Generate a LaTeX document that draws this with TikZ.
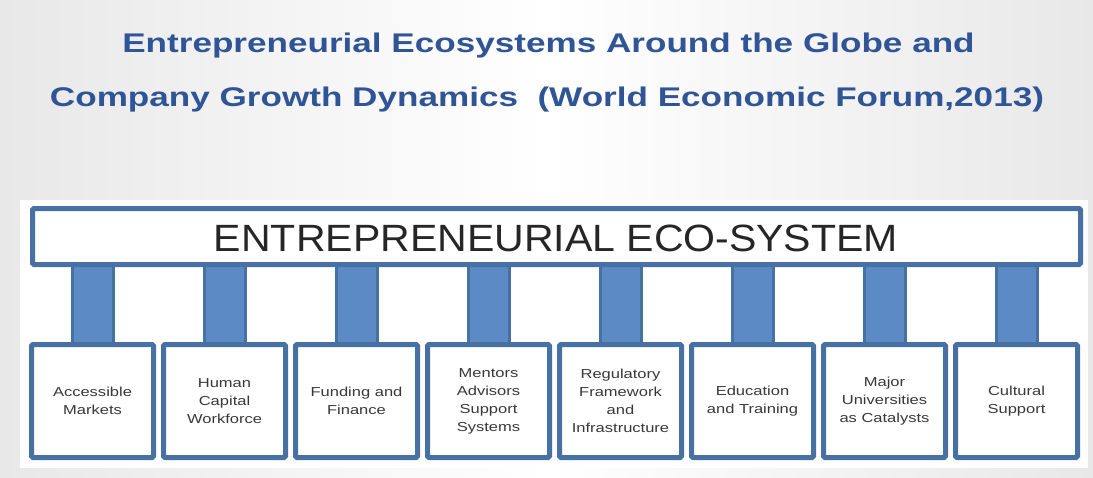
\documentclass[tikz,border=0pt]{standalone}
\usepackage{fontspec}
\setmainfont{Liberation Sans}
\newfontfamily\titlefont[FakeStretch=1.3]{Liberation Sans}
\newfontfamily\boxfont[FakeStretch=1.27]{Liberation Sans}
\newfontfamily\ecofont[FakeStretch=1.08]{Liberation Sans}
\begin{document}
\begin{tikzpicture}[x=1pt,y=-1pt,
  frame/.style={draw=barBlue,line width=5pt,fill=white,rounded corners=1.5pt},
  pillar/.style={draw=barBlue,line width=3pt,fill=pillarBlue},
  boxtext/.style={font=\boxfont\fontsize{13}{18}\selectfont,text=textGray,align=center},
  titletext/.style={font=\titlefont\fontsize{27}{27}\selectfont\bfseries,text=titleBlue,anchor=base}]
\definecolor{barBlue}{HTML}{4770A3}
\definecolor{pillarBlue}{HTML}{5B8AC4}
\definecolor{textGray}{HTML}{383838}
\definecolor{titleBlue}{HTML}{2F5597}
\useasboundingbox (0,0) rectangle (1093,477);
\shade[left color=black!9, right color=black!9, middle color=white] (0,0) rectangle (1093,477);
\fill[white] (20,200) rectangle (1088,468);
% title
\node[titletext] (t1) at (548.5,52) {Entrepreneurial Ecosystems Around the Globe and};
\node[titletext] (t2) at (547,106) {Company Growth Dynamics\ \ (World Economic Forum,2013)};
% pillars
\foreach \i in {0,...,7}{
  \draw[pillar] ({92.5+132*\i-20.5},262) rectangle ({92.5+132*\i+20.5},346);
}
% top bar
\draw[frame] (32.5,208.5) rectangle (1080.5,264.5);
\node[font=\ecofont\fontsize{38}{38}\selectfont,text=black!85,anchor=base] (eco) at (556,251) {ENTREPRENEURIAL ECO-SYSTEM};
% boxes
\foreach \i/\txt in {0/{Accessible\\Markets},1/{Human\\Capital\\Workforce},2/{Funding and\\Finance},3/{Mentors\\Advisors\\Support\\Systems},4/{Regulatory\\Framework\\and\\Infrastructure},5/{Education\\and Training},6/{Major\\Universities\\as Catalysts},7/{Cultural\\Support}}{
  \draw[frame] ({31.5+132*\i},344.5) rectangle ({153.5+132*\i},457.5);
  \node[boxtext] (b\i) at ({92.5+132*\i},401) {\txt};
}
\end{tikzpicture}
\end{document}
